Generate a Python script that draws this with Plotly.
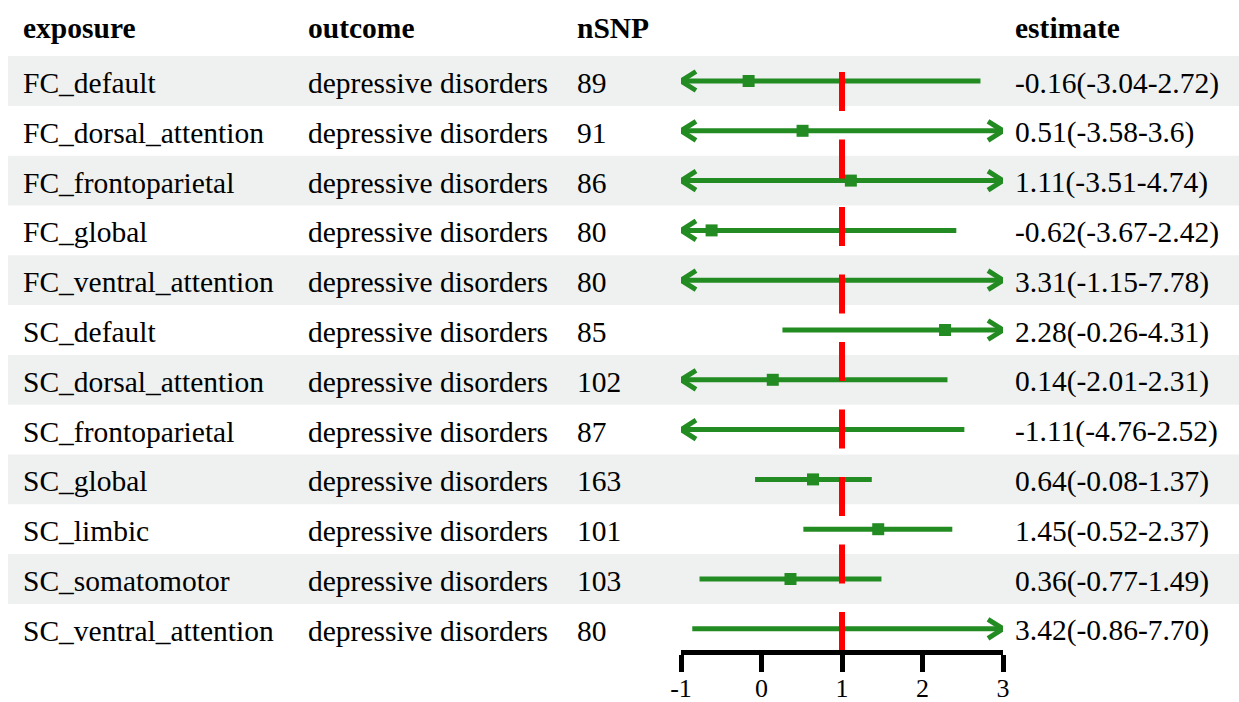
import plotly.graph_objects as go

# ---------------- data ----------------
exposure = ["FC_default", "FC_dorsal_attention", "FC_frontoparietal", "FC_global",
            "FC_ventral_attention", "SC_default", "SC_dorsal_attention",
            "SC_frontoparietal", "SC_global", "SC_limbic", "SC_somatomotor",
            "SC_ventral_attention"]
outcome = ["depressive disorders"] * 12
nsnp = [89, 91, 86, 80, 80, 85, 102, 87, 163, 101, 103, 80]
estimate_label = ["-0.16(-3.04-2.72)", "0.51(-3.58-3.6)", "1.11(-3.51-4.74)",
                  "-0.62(-3.67-2.42)", "3.31(-1.15-7.78)", "2.28(-0.26-4.31)",
                  "0.14(-2.01-2.31)", "-1.11(-4.76-2.52)", "0.64(-0.08-1.37)",
                  "1.45(-0.52-2.37)", "0.36(-0.77-1.49)", "3.42(-0.86-7.70)"]
est = [-0.16, 0.51, 1.11, -0.62, 3.31, 2.28, 0.14, -1.11, 0.64, 1.45, 0.36, 3.42]
ci_low = [-3.04, -3.58, -3.51, -3.67, -1.15, 0.26, -2.01, -4.76, -0.08, 0.52, -0.77, -0.86]
ci_high = [2.72, 3.6, 4.74, 2.42, 7.78, 4.31, 2.31, 2.52, 1.37, 2.37, 1.49, 7.70]
headers = ["exposure", "outcome", "nSNP", "estimate"]
x_ticks = [-1, 0, 1, 2, 3]
ref_value = 1

# ---------------- style / layout ----------------
W, H = 1239, 702
X_LIM = (-1, 3)
AX_LEFT_PX, AX_RIGHT_PX = 681, 1003
ROW0_PX, ROW_STEP = 81, 49.8
PLOT_BOTTOM_PX = 650
col_px = [21, 306, 575, 1013]
GREEN = "#228B22"
RED = "#FF0000"
BAND = "#EFF1F0"
FONT = "Liberation Serif"
FS = 29.5

PX_PER_UNIT = (AX_RIGHT_PX - AX_LEFT_PX) / (X_LIM[1] - X_LIM[0])
HEAD_LEN = 15 / PX_PER_UNIT      # arrow head length in data units
HEAD_HALF = 9.5 / ROW_STEP       # arrow head half height in row units

n = len(exposure)
rows = list(range(n))
y_top = (0 - ROW0_PX) / ROW_STEP
y_bot = (PLOT_BOTTOM_PX - ROW0_PX) / ROW_STEP
header_y = (28 - ROW0_PX) / ROW_STEP
ref_top = (72 - ROW0_PX) / ROW_STEP

fig = go.Figure()

# CI lines clipped to axis range
lx, ly = [], []
for i in rows:
    lo = max(ci_low[i], X_LIM[0])
    hi = min(ci_high[i], X_LIM[1])
    lx += [lo, hi, None]
    ly += [i, i, None]
fig.add_trace(go.Scatter(x=lx, y=ly, mode="lines",
                         line=dict(color=GREEN, width=5),
                         hoverinfo="skip", showlegend=False))

# arrow heads (open chevrons) where the CI runs past the axis range
ax_, ay_ = [], []
for i in rows:
    if ci_low[i] < X_LIM[0]:
        t = X_LIM[0]
        ax_ += [t + HEAD_LEN, t, t + HEAD_LEN, None]
        ay_ += [i - HEAD_HALF, i, i + HEAD_HALF, None]
    if ci_high[i] > X_LIM[1]:
        t = X_LIM[1]
        ax_ += [t - HEAD_LEN, t, t - HEAD_LEN, None]
        ay_ += [i - HEAD_HALF, i, i + HEAD_HALF, None]
fig.add_trace(go.Scatter(x=ax_, y=ay_, mode="lines", cliponaxis=False,
                         line=dict(color=GREEN, width=5),
                         hoverinfo="skip", showlegend=False))

# point estimates
fig.add_trace(go.Scatter(x=est, y=rows, mode="markers",
                         marker=dict(symbol="square", size=12, color=GREEN),
                         cliponaxis=True, showlegend=False))

annotations = []
shapes = []

# zebra bands
for i in rows:
    if i % 2 == 0:
        shapes.append(dict(type="rect", xref="paper", yref="y",
                           x0=8 / W, x1=1, y0=i - 0.5, y1=i + 0.5,
                           fillcolor=BAND, line=dict(width=0), layer="below"))

# reference line
shapes.append(dict(type="line", xref="x", yref="y", x0=ref_value, x1=ref_value,
                   y0=ref_top, y1=y_bot,
                   line=dict(color=RED, width=6, dash="39px,28.5px"),
                   layer="above"))

# header texts
for c, h in enumerate(headers):
    annotations.append(dict(x=col_px[c] / W, y=header_y, xref="paper", yref="y",
                            text="<b>" + h + "</b>", showarrow=False,
                            xanchor="left", yanchor="middle",
                            font=dict(family=FONT, size=FS, color="black")))

# table texts
cols = [exposure, outcome, [str(v) for v in nsnp], estimate_label]
for c, col in enumerate(cols):
    for i in rows:
        annotations.append(dict(x=col_px[c] / W, y=i, xref="paper", yref="y",
                                text=col[i], showarrow=False, yshift=-2,
                                xanchor="left", yanchor="middle",
                                font=dict(family=FONT, size=FS, color="black")))

fig.update_layout(
    template="none",
    width=W, height=H,
    margin=dict(l=0, r=0, t=0, b=0, pad=0, autoexpand=False),
    paper_bgcolor="white", plot_bgcolor="rgba(0,0,0,0)",
    showlegend=False,
    xaxis=dict(domain=[AX_LEFT_PX / W, AX_RIGHT_PX / W], range=list(X_LIM),
               automargin=False,
               showgrid=False, zeroline=False, showline=True,
               linewidth=5, linecolor="black", ticks="outside",
               ticklen=17, tickwidth=5, tickcolor="black",
               ticklabelstandoff=-6,
               tickvals=x_ticks, ticktext=[str(t) for t in x_ticks],
               tickfont=dict(family=FONT, size=26, color="black")),
    yaxis=dict(domain=[1 - PLOT_BOTTOM_PX / H, 1], range=[y_bot, y_top],
               automargin=False,
               showgrid=False, zeroline=False, showticklabels=False,
               showline=False, ticks=""),
    shapes=shapes,
    annotations=annotations,
)

fig.write_html("out.html")
